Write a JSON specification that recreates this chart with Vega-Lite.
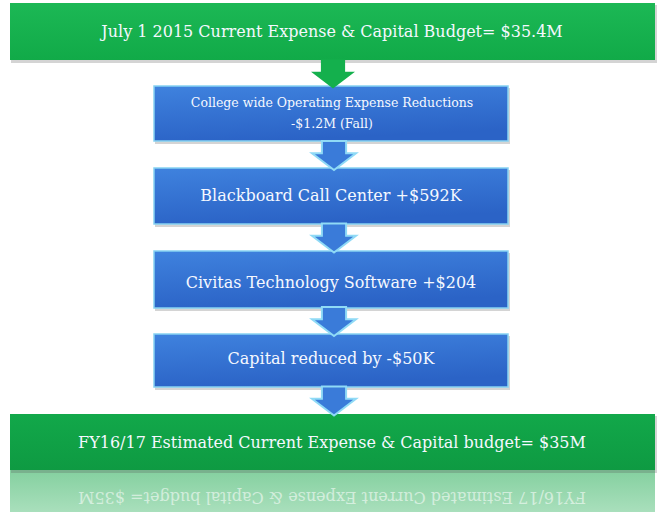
{
  "$schema": "https://vega.github.io/schema/vega-lite/v6.json",
  "width": 663,
  "height": 512,
  "padding": 0,
  "autosize": {"type": "none"},
  "background": "white",
  "config": {"view": {"stroke": null}},
  "datasets": {
    "boxes": [
      {"id": "start", "kind": "green_top", "x1": 10, "x2": 655, "y1": 3, "y2": 60},
      {"id": "reduction", "kind": "blue", "x1": 154, "x2": 508, "y1": 86, "y2": 141},
      {"id": "blackboard", "kind": "blue", "x1": 154, "x2": 508, "y1": 168, "y2": 224},
      {"id": "civitas", "kind": "blue", "x1": 154, "x2": 508, "y1": 251, "y2": 308},
      {"id": "capital", "kind": "blue", "x1": 154, "x2": 508, "y1": 334, "y2": 387},
      {"id": "end", "kind": "green_bottom", "x1": 10, "x2": 655, "y1": 414, "y2": 470}
    ],
    "reflection": [
      {"x1": 10, "x2": 655, "y1": 470, "y2": 512}
    ],
    "arrows": [
      {"kind": "green", "x": 333, "y": 74},
      {"kind": "blue", "x": 334, "y": 155.5},
      {"kind": "blue", "x": 334, "y": 238},
      {"kind": "blue", "x": 334, "y": 321.5},
      {"kind": "blue", "x": 334, "y": 401}
    ],
    "labels": [
      {"group": "main", "text": "July 1 2015 Current Expense & Capital Budget= $35.4M", "x": 332, "y": 32},
      {"group": "small", "text": "College wide Operating Expense Reductions", "x": 332, "y": 103},
      {"group": "small", "text": "-$1.2M (Fall)", "x": 332, "y": 124},
      {"group": "main", "text": "Blackboard Call Center +$592K", "x": 331, "y": 196},
      {"group": "main", "text": "Civitas Technology Software +$204", "x": 331, "y": 283},
      {"group": "main", "text": "Capital reduced by -$50K", "x": 331, "y": 359},
      {"group": "main", "text": "FY16/17 Estimated Current Expense & Capital budget= $35M", "x": 332, "y": 443}
    ],
    "mirror": [
      {"text": "FY16/17 Estimated Current Expense & Capital budget= $35M", "x": 332, "y": 497}
    ]
  },
  "encoding": {
    "x": {"type": "quantitative", "scale": {"domain": [0, 663], "nice": false, "zero": false}, "axis": null},
    "y": {"type": "quantitative", "scale": {"domain": [0, 512], "nice": false, "zero": false, "reverse": true}, "axis": null}
  },
  "layer": [
    {
      "data": {"name": "reflection"},
      "mark": {"type": "rect", "fill": {"gradient": "linear", "x1": 0, "y1": 0, "x2": 0, "y2": 1, "stops": [{"offset": 0, "color": "#84d09f"}, {"offset": 1, "color": "#a9dfbc"}]}},
      "encoding": {"x": {"field": "x1"}, "x2": {"field": "x2"}, "y": {"field": "y1"}, "y2": {"field": "y2"}}
    },
    {
      "data": {"name": "mirror"},
      "mark": {"type": "text", "font": "DejaVu Serif", "fontSize": 16, "angle": 180, "align": "center", "baseline": "middle", "fill": "#ffffff", "opacity": 0.55},
      "encoding": {"x": {"field": "x"}, "y": {"field": "y"}, "text": {"field": "text"}}
    },
    {
      "data": {"name": "boxes"},
      "mark": {"type": "rect", "fill": "#555555", "opacity": 0.25, "xOffset": 1, "x2Offset": 2, "yOffset": 2, "y2Offset": 3},
      "encoding": {"x": {"field": "x1"}, "x2": {"field": "x2"}, "y": {"field": "y1"}, "y2": {"field": "y2"}}
    },
    {
      "data": {"name": "boxes"},
      "transform": [{"filter": "datum.kind === 'green_top'"}],
      "mark": {"type": "rect", "fill": {"gradient": "linear", "x1": 0, "y1": 0, "x2": 0, "y2": 1, "stops": [{"offset": 0, "color": "#1cb855"}, {"offset": 1, "color": "#11aa48"}]}},
      "encoding": {"x": {"field": "x1"}, "x2": {"field": "x2"}, "y": {"field": "y1"}, "y2": {"field": "y2"}}
    },
    {
      "data": {"name": "boxes"},
      "transform": [{"filter": "datum.kind === 'green_bottom'"}],
      "mark": {"type": "rect", "fill": {"gradient": "linear", "x1": 0, "y1": 0, "x2": 0, "y2": 1, "stops": [{"offset": 0, "color": "#12a84a"}, {"offset": 1, "color": "#0e9a42"}]}},
      "encoding": {"x": {"field": "x1"}, "x2": {"field": "x2"}, "y": {"field": "y1"}, "y2": {"field": "y2"}}
    },
    {
      "data": {"name": "boxes"},
      "transform": [{"filter": "datum.kind === 'blue'"}],
      "mark": {"type": "rect", "stroke": "#86d2f2", "strokeWidth": 1.5, "fill": {"gradient": "linear", "x1": 0, "y1": 0, "x2": 0.3, "y2": 1, "stops": [{"offset": 0, "color": "#3f82de"}, {"offset": 1, "color": "#2b63c6"}]}},
      "encoding": {"x": {"field": "x1"}, "x2": {"field": "x2"}, "y": {"field": "y1"}, "y2": {"field": "y2"}}
    },
    {
      "data": {"name": "arrows"},
      "transform": [{"filter": "datum.kind === 'green'"}],
      "mark": {"type": "point", "filled": true, "fill": "#14b04d", "opacity": 1, "strokeWidth": 0, "size": 1936, "shape": "M -0.55 -0.66 L 0.55 -0.66 L 0.55 -0.1 L 1 -0.1 L 0 0.66 L -1 -0.1 L -0.55 -0.1 Z"},
      "encoding": {"x": {"field": "x"}, "y": {"field": "y"}}
    },
    {
      "data": {"name": "arrows"},
      "transform": [{"filter": "datum.kind === 'blue'"}],
      "mark": {"type": "point", "filled": true, "fill": "#3a7bd9", "stroke": "#8fdaf6", "strokeWidth": 2, "opacity": 1, "size": 1936, "shape": "M -0.55 -0.66 L 0.55 -0.66 L 0.55 -0.1 L 1 -0.1 L 0 0.66 L -1 -0.1 L -0.55 -0.1 Z"},
      "encoding": {"x": {"field": "x"}, "y": {"field": "y"}}
    },
    {
      "data": {"name": "labels"},
      "transform": [{"filter": "datum.group === 'main'"}],
      "mark": {"type": "text", "font": "DejaVu Serif", "fontSize": 16, "align": "center", "baseline": "middle", "fill": "#f5f8ff"},
      "encoding": {"x": {"field": "x"}, "y": {"field": "y"}, "text": {"field": "text"}}
    },
    {
      "data": {"name": "labels"},
      "transform": [{"filter": "datum.group === 'small'"}],
      "mark": {"type": "text", "font": "DejaVu Serif", "fontSize": 12.5, "align": "center", "baseline": "middle", "fill": "#f5f8ff"},
      "encoding": {"x": {"field": "x"}, "y": {"field": "y"}, "text": {"field": "text"}}
    }
  ]
}
